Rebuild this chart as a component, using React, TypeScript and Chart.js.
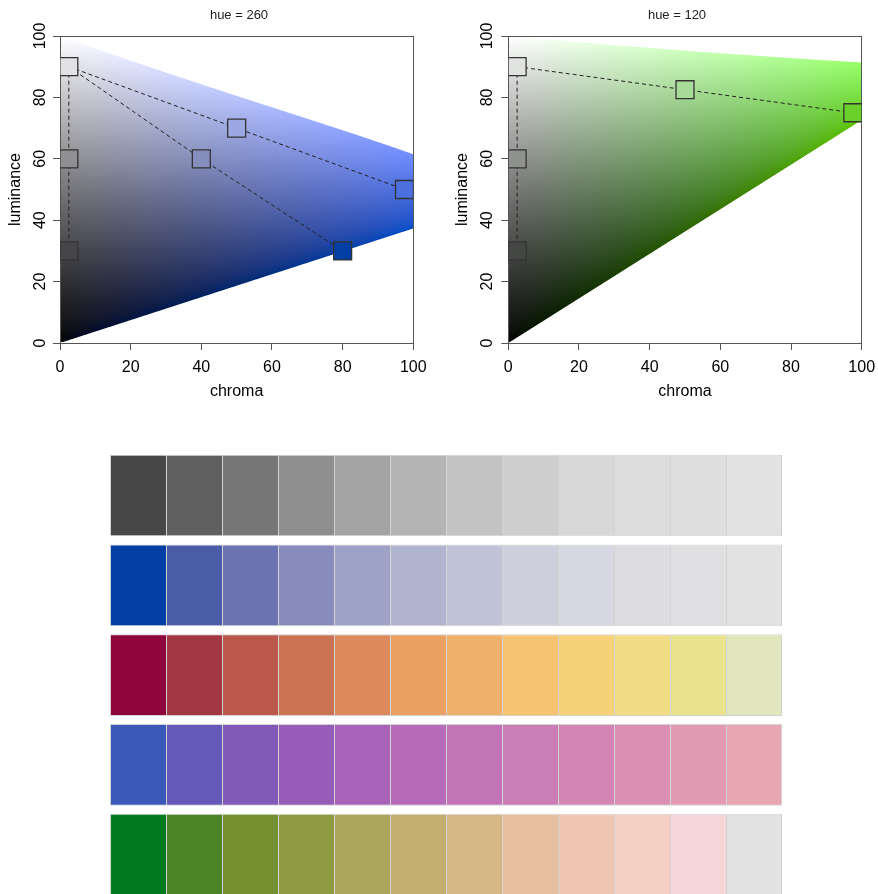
import React, { useEffect, useRef } from "react";
import { Chart, registerables } from "chart.js";

Chart.register(...registerables);

const FONT = "'Liberation Sans', Arial, Helvetica, sans-serif";

// ---------- top panels (HCL plane at fixed hue) ----------
const HUE_LEFT = 260;
const HUE_RIGHT = 120;
const TITLE_LEFT = "hue = 260";
const TITLE_RIGHT = "hue = 120";
const AXIS_TICKS = [0, 20, 40, 60, 80, 100];
const CHROMA_MAX = 100;
const LUM_MAX = 100;

const LEFT_GRAY_C = [2.5, 2.5, 2.5];
const LEFT_GRAY_L = [90, 60, 30];
const LEFT_UPPER_C = [2.5, 50, 97.5];
const LEFT_UPPER_L = [90, 70, 50];
const LEFT_LOWER_C = [2.5, 40, 80];
const LEFT_LOWER_L = [90, 60, 30];

const RIGHT_GRAY_C = [2.5, 2.5, 2.5];
const RIGHT_GRAY_L = [90, 60, 30];
const RIGHT_PATH_C = [2.5, 50, 97.5];
const RIGHT_PATH_L = [90, 82.5, 75];

// ---------- bottom swatches ----------
const ROW_NAMES = ["Grays", "Blues", "Heat", "Blue-Pink", "Green-Pink"];
const ROW_GRAYS = ["#474747", "#5f5f5f", "#777777", "#8e8e8e", "#a3a3a3", "#b4b4b4", "#c3c3c3", "#cecece", "#d7d7d7", "#dcdcdc", "#dfdfdf", "#e2e2e2"];
const ROW_BLUES = ["#023fa5", "#4a5ba8", "#6b74b1", "#878cbc", "#9da2c6", "#b0b4cf", "#c0c2d6", "#cdcfdc", "#d6d7e0", "#dcdce1", "#e0e0e2", "#e2e2e2"];
const ROW_HEAT = ["#8e063b", "#a33844", "#ba584b", "#cc7353", "#dd8b5c", "#e9a062", "#efb169", "#f5c372", "#f5d17a", "#f1dc83", "#e9e38d", "#e2e6bd"];
const ROW_BLUE_PINK = ["#3b58b7", "#6658b8", "#8159b7", "#975cb8", "#a863b8", "#b66ab8", "#c274b6", "#cb7db5", "#d386b4", "#db90b3", "#e29bb3", "#e8a6b3"];
const ROW_GREEN_PINK = ["#007a20", "#4b8525", "#738f30", "#8f9b43", "#aba75a", "#c2ae6f", "#d5b886", "#e6bf9f", "#f0c6b2", "#f5cec4", "#f6d6d8", "#e2e2e2"];
const SWATCH_ROWS = [ROW_GRAYS, ROW_BLUES, ROW_HEAT, ROW_BLUE_PINK, ROW_GREEN_PINK];
const SWATCH_UNIT = [1, 1, 1, 1, 1];

// ---------- colour conversion (polar LUV -> sRGB) ----------
function hclToLinear(h: number, c: number, l: number): [number, number, number] {
  if (l <= 0) return [0, 0, 0];
  const hr = (h * Math.PI) / 180;
  const u = c * Math.cos(hr);
  const v = c * Math.sin(hr);
  const Y = l > 8 ? Math.pow((l + 16) / 116, 3) : l / 903.2963;
  const un = 0.1978398;
  const vn = 0.4683363;
  const up = u / (13 * l) + un;
  const vp = v / (13 * l) + vn;
  const X = (Y * 9 * up) / (4 * vp);
  const Z = (Y * (12 - 3 * up - 20 * vp)) / (4 * vp);
  return [
    3.240479 * X - 1.53715 * Y - 0.498535 * Z,
    -0.969256 * X + 1.875992 * Y + 0.041556 * Z,
    0.055648 * X - 0.204043 * Y + 1.057311 * Z,
  ];
}
function gam(v: number) {
  const x = Math.min(1, Math.max(0, v));
  return x <= 0.0031308 ? 12.92 * x : 1.055 * Math.pow(x, 1 / 2.4) - 0.055;
}
function hclCss(h: number, c: number, l: number) {
  const [r, g, b] = hclToLinear(h, c, l);
  return `rgb(${Math.round(gam(r) * 255)},${Math.round(gam(g) * 255)},${Math.round(gam(b) * 255)})`;
}

const LOW_EPS = 1e-6;
const HIGH_EPS = 1e-3;
function inGamut(lin: [number, number, number]) {
  return (
    lin[0] >= -LOW_EPS && lin[1] >= -LOW_EPS && lin[2] >= -LOW_EPS &&
    lin[0] <= 1 + HIGH_EPS && lin[1] <= 1 + HIGH_EPS && lin[2] <= 1 + HIGH_EPS
  );
}

const gamutPlugin = {
  id: "hclGamut",
  beforeDraw(chart: any, _args: any, opts: any) {
    const hue = opts.hue;
    const ca = chart.chartArea;
    const xs = chart.scales.x;
    const ys = chart.scales.y;
    const x0 = Math.floor(ca.left);
    const y0 = Math.floor(ca.top);
    const w = Math.ceil(ca.right) - x0;
    const h = Math.ceil(ca.bottom) - y0;
    const off = document.createElement("canvas");
    off.width = w;
    off.height = h;
    const octx = off.getContext("2d")!;
    const img = octx.createImageData(w, h);
    const S = 3;
    for (let py = 0; py < h; py++) {
      for (let px = 0; px < w; px++) {
        let n = 0, r = 0, g = 0, b = 0;
        for (let sy = 0; sy < S; sy++) {
          const L = ys.getValueForPixel(y0 + py + (sy + 0.5) / S);
          if (L <= 0.3 || L > LUM_MAX) continue;
          for (let sx = 0; sx < S; sx++) {
            const C = xs.getValueForPixel(x0 + px + (sx + 0.5) / S);
            if (C < 0 || C > CHROMA_MAX) continue;
            const lin = hclToLinear(hue, C, L);
            if (inGamut(lin)) {
              n++;
              r += lin[0];
              g += lin[1];
              b += lin[2];
            }
          }
        }
        if (n > 0) {
          const i = (py * w + px) * 4;
          img.data[i] = Math.round(gam(r / n) * 255);
          img.data[i + 1] = Math.round(gam(g / n) * 255);
          img.data[i + 2] = Math.round(gam(b / n) * 255);
          img.data[i + 3] = Math.round((255 * n) / (S * S));
        }
      }
    }
    octx.putImageData(img, 0, 0);
    chart.ctx.drawImage(off, x0, y0);
  },
};

type PanelSpec = {
  hue: number;
  title: string;
  paths: { c: number[]; l: number[] }[];
  yAxisWidth: number;
  y2Width: number;
  yTickPad: number;
  yTitlePad: number;
};

function panelConfig(spec: PanelSpec): any {
  const tickFont = { family: FONT, size: 16 };
  const lineSets = spec.paths.map((p) => ({
    data: p.c.map((c, i) => ({ x: c, y: p.l[i] })),
    showLine: true,
    borderColor: "#222",
    borderWidth: 1,
    borderDash: [4, 3],
    pointRadius: 0,
    clip: 0,
    order: 2,
    xAxisID: "x",
    yAxisID: "y",
  }));
  const seen = new Set<string>();
  const pts: { x: number; y: number }[] = [];
  spec.paths.forEach((p) =>
    p.c.forEach((c, i) => {
      const k = c + "_" + p.l[i];
      if (!seen.has(k)) {
        seen.add(k);
        pts.push({ x: c, y: p.l[i] });
      }
    })
  );
  const pointSet = {
    data: pts,
    showLine: false,
    pointStyle: "rect",
    pointRadius: 12.7,
    pointBorderWidth: 1.3,
    pointBorderColor: "#333",
    pointBackgroundColor: pts.map((p) => hclCss(spec.hue, p.x, p.y)),
    clip: 0,
    order: 1,
    xAxisID: "x",
    yAxisID: "y",
  };
  const setTicks = (s: any) => {
    s.ticks = AXIS_TICKS.map((v) => ({ value: v }));
  };
  const axisLine = { display: true, color: "#555", width: 1 };
  return {
    type: "scatter",
    data: { datasets: [...lineSets, pointSet] },
    plugins: [gamutPlugin],
    options: {
      responsive: false,
      animation: false,
      devicePixelRatio: 1,
      events: [],
      layout: { padding: 0 },
      plugins: {
        hclGamut: { hue: spec.hue },
        legend: { display: false },
        tooltip: { enabled: false },
        title: {
          display: true,
          text: spec.title,
          color: "#222",
          font: { family: FONT, size: 13, weight: "normal" },
          padding: { top: 7.5, bottom: 12.9 },
        },
      },
      scales: {
        x: {
          type: "linear",
          position: "bottom",
          min: 0,
          max: CHROMA_MAX,
          afterBuildTicks: setTicks,
          afterFit: (s: any) => {
            s.height = 67;
          },
          ticks: { font: tickFont, color: "#000", padding: 8, autoSkip: false, maxRotation: 0 },
          grid: { drawOnChartArea: false, drawTicks: true, tickLength: 7, color: "#555", tickColor: "#555" },
          border: axisLine,
          title: { display: true, text: "chroma", color: "#000", font: tickFont, padding: { top: 0, bottom: 9.2 } },
        },
        y: {
          type: "linear",
          position: "left",
          min: 0,
          max: LUM_MAX,
          afterBuildTicks: setTicks,
          afterFit: (s: any) => {
            s.width = spec.yAxisWidth;
          },
          ticks: { font: tickFont, color: "#000", padding: spec.yTickPad, autoSkip: false, minRotation: 90, maxRotation: 90, crossAlign: "center" },
          grid: { drawOnChartArea: false, drawTicks: true, tickLength: 7, color: "#555", tickColor: "#555" },
          border: axisLine,
          title: { display: true, text: "luminance", color: "#000", font: tickFont, padding: { top: spec.yTitlePad, bottom: 0 } },
        },
        x2: {
          type: "linear",
          position: "top",
          ticks: { display: false },
          grid: { display: false, drawTicks: false },
          border: axisLine,
          afterFit: (s: any) => {
            s.height = 0;
          },
        },
        y2: {
          type: "linear",
          position: "right",
          ticks: { display: false },
          grid: { display: false, drawTicks: false },
          border: axisLine,
          afterFit: (s: any) => {
            s.width = spec.y2Width;
          },
        },
      },
    },
  };
}

function swatchConfig(): any {
  const n = ROW_GRAYS.length;
  const datasets = Array.from({ length: n }, (_, i) => ({
    data: SWATCH_UNIT,
    backgroundColor: SWATCH_ROWS.map((r) => r[i]),
    borderColor: "#d3d3d3",
    borderWidth: { top: 1, bottom: 1, left: 1, right: i === n - 1 ? 1 : 0 },
    borderSkipped: false,
    inflateAmount: 0,
    barPercentage: 0.91,
    categoryPercentage: 1,
  }));
  return {
    type: "bar",
    data: { labels: ROW_NAMES, datasets },
    options: {
      indexAxis: "y",
      responsive: false,
      animation: false,
      devicePixelRatio: 1,
      events: [],
      layout: { padding: { left: 110, right: 96, top: 5.6, bottom: 5.4 } },
      plugins: { legend: { display: false }, tooltip: { enabled: false }, title: { display: false } },
      scales: {
        x: { stacked: true, min: 0, max: n, display: false },
        y: { stacked: true, display: false },
      },
    },
  };
}

const LEFT_SPEC: PanelSpec = {
  hue: HUE_LEFT,
  title: TITLE_LEFT,
  paths: [
    { c: LEFT_GRAY_C, l: LEFT_GRAY_L },
    { c: LEFT_UPPER_C, l: LEFT_UPPER_L },
    { c: LEFT_LOWER_C, l: LEFT_LOWER_L },
  ],
  yAxisWidth: 60,
  y2Width: 64.7,
  yTickPad: -1,
  yTitlePad: 6.4,
};

const RIGHT_SPEC: PanelSpec = {
  hue: HUE_RIGHT,
  title: TITLE_RIGHT,
  paths: [
    { c: RIGHT_GRAY_C, l: RIGHT_GRAY_L },
    { c: RIGHT_PATH_C, l: RIGHT_PATH_L },
  ],
  yAxisWidth: 68.3,
  y2Width: 52.3,
  yTickPad: 0.5,
  yTitlePad: 12.8,
};

export default function App() {
  const leftRef = useRef<HTMLCanvasElement>(null);
  const rightRef = useRef<HTMLCanvasElement>(null);
  const swRef = useRef<HTMLCanvasElement>(null);

  useEffect(() => {
    const charts = [
      new Chart(leftRef.current!, panelConfig(LEFT_SPEC)),
      new Chart(rightRef.current!, panelConfig(RIGHT_SPEC)),
      new Chart(swRef.current!, swatchConfig()),
    ];
    return () => charts.forEach((c) => c.destroy());
  }, []);

  return (
    <div style={{ position: "fixed", left: 0, top: 0, width: 878, height: 894, overflow: "hidden", background: "#fff" }}>
      <canvas ref={leftRef} width={478} height={410} style={{ position: "absolute", left: 0, top: 0, width: 478, height: 410 }} />
      <canvas ref={rightRef} width={474} height={410} style={{ position: "absolute", left: 440, top: 0, width: 474, height: 410 }} />
      <canvas ref={swRef} width={878} height={460} style={{ position: "absolute", left: 0, top: 445, width: 878, height: 460 }} />
    </div>
  );
}
